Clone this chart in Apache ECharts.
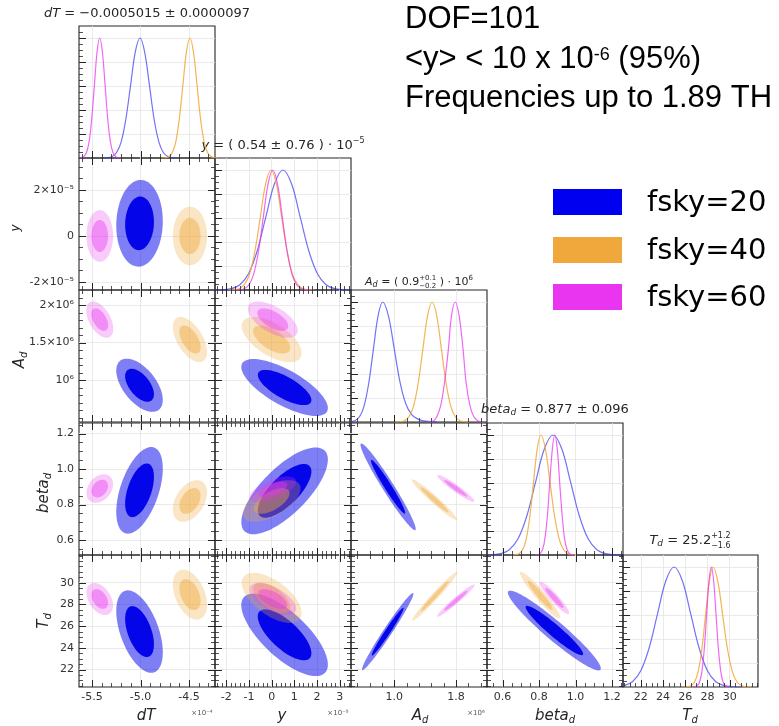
<!DOCTYPE html>
<html><head><meta charset="utf-8">
<script src="https://cdn.jsdelivr.net/npm/echarts@6.0.0/dist/echarts.min.js"></script>
<style>html,body{margin:0;padding:0;background:#fff;overflow:hidden}#chart{width:779px;height:726px}</style>
</head><body><div id="chart"></div>
<script>
// ================= DATA =================
const paramNames = ['dT', 'y', 'A_d', 'beta_d', 'T_d'];
const seriesNames = ['fsky=20', 'fsky=40', 'fsky=60'];

// ---- 1D marginal curves (x in plotted units, normalised density) ----
const dT_x_20 = [-5.393,-5.345,-5.296,-5.248,-5.199,-5.151,-5.102,-5.054,-5.005,-4.957,-4.908,-4.860,-4.811,-4.763,-4.714,-4.666,-4.617];
const dT_p_20 = [0.000,0.002,0.011,0.044,0.135,0.325,0.607,0.883,1.000,0.883,0.607,0.325,0.135,0.044,0.011,0.002,0.000];
const dT_x_40 = [-4.782,-4.746,-4.709,-4.673,-4.636,-4.600,-4.563,-4.527,-4.490,-4.454,-4.417,-4.381,-4.344,-4.308,-4.271,-4.235,-4.198];
const dT_p_40 = [0.000,0.002,0.011,0.044,0.135,0.325,0.607,0.883,1.000,0.883,0.607,0.325,0.135,0.044,0.011,0.002,0.000];
const dT_x_60 = [-5.640,-5.613,-5.585,-5.558,-5.530,-5.503,-5.475,-5.448,-5.420,-5.393,-5.365,-5.338,-5.310,-5.283,-5.255,-5.228,-5.200];
const dT_p_60 = [0.000,0.002,0.011,0.044,0.135,0.325,0.607,0.883,1.000,0.883,0.607,0.325,0.135,0.044,0.011,0.002,0.000];

const y_x_20 = [-2.54,-2.16,-1.78,-1.40,-1.02,-0.64,-0.26,0.12,0.50,0.88,1.26,1.64,2.02,2.40,2.78,3.16,3.54];
const y_p_20 = [0.000,0.002,0.011,0.044,0.135,0.325,0.607,0.883,1.000,0.883,0.607,0.325,0.135,0.044,0.011,0.002,0.000];
const y_x_40 = [-1.91,-1.68,-1.44,-1.21,-0.97,-0.74,-0.50,-0.27,-0.03,0.21,0.44,0.68,0.91,1.15,1.38,1.62,1.85];
const y_p_40 = [0.000,0.002,0.011,0.044,0.135,0.325,0.607,0.883,1.000,0.883,0.607,0.325,0.135,0.044,0.011,0.002,0.000];
const y_x_60 = [-1.63,-1.42,-1.21,-1.00,-0.79,-0.58,-0.37,-0.16,0.05,0.26,0.47,0.68,0.89,1.10,1.31,1.52,1.73];
const y_p_60 = [0.000,0.002,0.011,0.044,0.135,0.325,0.607,0.883,1.000,0.883,0.607,0.325,0.135,0.044,0.011,0.002,0.000];

const Ad_x_20 = [0.43,0.49,0.55,0.61,0.67,0.73,0.79,0.85,0.925,1.00,1.075,1.15,1.225,1.30,1.375,1.45,1.55];
const Ad_p_20 = [0.002,0.011,0.044,0.135,0.325,0.607,0.883,1.000,0.883,0.607,0.330,0.150,0.062,0.026,0.010,0.004,0.001];
const Ad_x_40 = [1.01,1.07,1.13,1.19,1.25,1.31,1.37,1.43,1.49,1.55,1.61,1.67,1.73,1.79,1.85,1.91,1.97];
const Ad_p_40 = [0.000,0.002,0.011,0.044,0.135,0.325,0.607,0.883,1.000,0.883,0.607,0.325,0.135,0.044,0.011,0.002,0.000];
const Ad_x_60 = [1.41,1.46,1.51,1.55,1.60,1.65,1.70,1.74,1.79,1.84,1.89,1.93,1.98,2.03,2.08,2.12,2.17];
const Ad_p_60 = [0.000,0.002,0.011,0.044,0.135,0.325,0.607,0.883,1.000,0.883,0.607,0.325,0.135,0.044,0.011,0.002,0.000];

const beta_x_20 = [0.493,0.541,0.589,0.637,0.685,0.733,0.781,0.829,0.877,0.925,0.973,1.021,1.069,1.117,1.165,1.213,1.261];
const beta_p_20 = [0.000,0.002,0.011,0.044,0.135,0.325,0.607,0.883,1.000,0.883,0.607,0.325,0.135,0.044,0.011,0.002,0.000];
const beta_x_40 = [0.65,0.67,0.69,0.71,0.73,0.75,0.77,0.79,0.81,0.835,0.86,0.885,0.91,0.935,0.96,0.985,1.01];
const beta_p_40 = [0.000,0.002,0.011,0.044,0.135,0.325,0.607,0.883,1.000,0.883,0.607,0.325,0.135,0.044,0.011,0.002,0.000];
const beta_x_60 = [0.778,0.792,0.805,0.819,0.832,0.846,0.859,0.873,0.886,0.900,0.913,0.927,0.940,0.954,0.967,0.981,0.994];
const beta_p_60 = [0.000,0.002,0.011,0.044,0.135,0.325,0.607,0.883,1.000,0.883,0.607,0.325,0.135,0.044,0.011,0.002,0.000];

const Td_x_20 = [19.0,19.75,20.5,21.25,22.0,22.75,23.5,24.25,25.0,25.75,26.5,27.25,28.0,28.75,29.5,30.25,31.0];
const Td_p_20 = [0.000,0.002,0.011,0.044,0.135,0.325,0.607,0.883,1.000,0.883,0.607,0.325,0.135,0.044,0.011,0.002,0.000];
const Td_x_40 = [25.86,26.19,26.52,26.85,27.18,27.51,27.84,28.17,28.5,28.93,29.36,29.79,30.22,30.65,31.08,31.51,31.94];
const Td_p_40 = [0.000,0.002,0.011,0.044,0.135,0.325,0.607,0.883,1.000,0.883,0.607,0.325,0.135,0.044,0.011,0.002,0.000];
const Td_x_60 = [26.67,26.88,27.09,27.30,27.51,27.72,27.93,28.14,28.35,28.56,28.77,28.98,29.19,29.40,29.61,29.82,30.03];
const Td_p_60 = [0.000,0.002,0.011,0.044,0.135,0.325,0.607,0.883,1.000,0.883,0.607,0.325,0.135,0.044,0.011,0.002,0.000];

// ---- 2D contours: [centre x, centre y, sigma x, sigma y, correlation] for fsky=20, 40, 60 ----
const c_y_dT    = [[-5.01,0.55,0.098,0.77,0.05],[-4.49,0.00,0.072,0.52,0.00],[-5.42,0.00,0.056,0.46,0.00]];
const c_Ad_dT   = [[-5.01,0.93,0.098,0.145,-0.55],[-4.49,1.54,0.072,0.123,-0.55],[-5.42,1.805,0.057,0.099,-0.50]];
const c_Ad_y    = [[0.57,0.90,0.78,0.155,-0.72],[0.00,1.54,0.54,0.123,-0.60],[0.05,1.805,0.45,0.099,-0.60]];
const c_beta_dT = [[-5.01,0.88,0.098,0.100,0.50],[-4.49,0.82,0.072,0.048,0.40],[-5.42,0.89,0.056,0.033,0.30]];
const c_beta_y  = [[0.57,0.877,0.78,0.100,0.72],[0.00,0.82,0.52,0.048,0.60],[0.05,0.885,0.42,0.030,0.60]];
const c_beta_Ad = [[0.92,0.90,0.146,0.100,-0.97],[1.52,0.827,0.120,0.047,-0.97],[1.797,0.891,0.098,0.031,-0.95]];
const c_Td_dT   = [[-5.01,25.5,0.098,1.55,-0.50],[-4.49,28.9,0.072,0.94,-0.40],[-5.42,28.5,0.056,0.60,-0.40]];
const c_Td_y    = [[0.57,25.2,0.78,1.55,-0.72],[0.00,28.6,0.54,0.94,-0.60],[0.05,28.5,0.42,0.60,-0.60]];
const c_Td_Ad   = [[0.915,25.5,0.136,1.45,0.98],[1.524,28.75,0.120,0.92,0.98],[1.797,28.35,0.100,0.61,0.97]];
const c_Td_beta = [[0.884,25.6,0.104,1.50,-0.95],[0.806,28.85,0.045,0.88,-0.95],[0.884,28.6,0.033,0.61,-0.93]];
const contourLevels = [2.448, 1.515]; // 95% and 68% Gaussian contour radii

// ---- ticks & labels ----
const dT_ticks = [-5.5,-5.0,-4.5];            const dT_tickLabels = ['-5.5','-5.0','-4.5'];
const y_ticks = [-2,-1,0,1,2,3];              const y_tickLabels = ['-2','-1','0','1','2','3'];
const y_ticksLeft = [-2,0,2];                 const y_tickLabelsLeft = ['-2×10⁻⁵','0','2×10⁻⁵'];
const Ad_ticks = [1.0,1.8];                   const Ad_tickLabels = ['1.0','1.8'];
const Ad_ticksLeft = [1.0,1.5,2.0];           const Ad_tickLabelsLeft = ['10⁶','1.5×10⁶','2×10⁶'];
const beta_ticks = [0.6,0.8,1.0,1.2];         const beta_tickLabels = ['0.6','0.8','1.0','1.2'];
const Td_ticks = [22,24,26,28,30];            const Td_tickLabels = ['22','24','26','28','30'];
const dens_ticks = [0.2,0.4,0.6,0.8,1.0];

// ================= BUILD =================
function steps(a, b, s) { const out = []; for (let v = a; v <= b + 1e-9; v += s) out.push(+v.toFixed(4)); return out; }

const xDefs = [
  {min:-5.634, max:-4.232, major:dT_ticks, labels:dT_tickLabels, minor:steps(-5.6,-4.3,0.1)},
  {min:-2.5, max:3.5, major:y_ticks, labels:y_tickLabels, minor:steps(-2.4,3.4,0.2)},
  {min:0.44, max:2.2, major:Ad_ticks, labels:Ad_tickLabels, minor:steps(0.52,2.12,0.16)},
  {min:0.515, max:1.26, major:beta_ticks, labels:beta_tickLabels, minor:steps(0.55,1.25,0.05)},
  {min:20.4, max:32.55, major:Td_ticks, labels:Td_tickLabels, minor:steps(20.5,32.5,0.5)}
];
const yDefs = [
  null,
  {min:-2.35, max:3.39, major:y_ticksLeft, labels:y_tickLabelsLeft, minor:steps(-2,3,0.5)},
  {min:0.44, max:2.2, major:Ad_ticksLeft, labels:Ad_tickLabelsLeft, minor:steps(0.5,2.1,0.1)},
  {min:0.515, max:1.26, major:beta_ticks, labels:beta_tickLabels, minor:steps(0.55,1.25,0.05)},
  {min:20.4, max:32.55, major:Td_ticks, labels:Td_tickLabels, minor:steps(20.5,32.5,0.5)}
];
const densDef = {min:0, max:1.1, major:dens_ticks, labels:[], minor:steps(0.05,1.05,0.05)};

const marginals = [
  [[dT_x_20,dT_p_20],[dT_x_40,dT_p_40],[dT_x_60,dT_p_60]],
  [[y_x_20,y_p_20],[y_x_40,y_p_40],[y_x_60,y_p_60]],
  [[Ad_x_20,Ad_p_20],[Ad_x_40,Ad_p_40],[Ad_x_60,Ad_p_60]],
  [[beta_x_20,beta_p_20],[beta_x_40,beta_p_40],[beta_x_60,beta_p_60]],
  [[Td_x_20,Td_p_20],[Td_x_40,Td_p_40],[Td_x_60,Td_p_60]]
];
const contours = {
  '1,0': c_y_dT, '2,0': c_Ad_dT, '2,1': c_Ad_y, '3,0': c_beta_dT, '3,1': c_beta_y,
  '3,2': c_beta_Ad, '4,0': c_Td_dT, '4,1': c_Td_y, '4,2': c_Td_Ad, '4,3': c_Td_beta
};

const colLeft = [79, 215, 351, 487, 623];
const colW = [136, 136, 136, 136, 135];
const rowTop = [26, 158, 290, 423, 555];
const rowH = 132;

const axisColor = '#262626';
const lineColors = ['rgba(60,60,245,0.72)', 'rgba(242,172,64,0.9)', 'rgba(233,53,240,0.75)'];
const outerFill = ['rgba(0,0,235,0.50)', 'rgba(240,168,60,0.30)', 'rgba(233,53,240,0.26)'];
const innerFill = ['rgba(0,0,232,0.96)', 'rgba(240,168,60,0.45)', 'rgba(233,53,240,0.42)'];

function nearestLabel(def, v) {
  let bi = 0, bd = Infinity;
  def.major.forEach((m, i) => { const d = Math.abs(m - v); if (d < bd) { bd = d; bi = i; } });
  return def.labels[bi] || '';
}
function makeAxis(gi, def, pos, showLabel) {
  return {
    type: 'value', gridIndex: gi, position: pos, min: def.min, max: def.max,
    axisLine: {show: false, onZero: false},
    axisTick: {show: false, customValues: def.major},
    minorTick: {show: false},
    axisLabel: {show: showLabel, customValues: def.major, hideOverlap: false,
                formatter: v => nearestLabel(def, v), margin: 5,
                fontFamily: 'DejaVu Sans', fontSize: 11, color: '#333'},
    splitLine: {show: true, lineStyle: {color: '#e4e4e4', width: 0.8}},
    axisPointer: {show: false}
  };
}
// tick marks drawn through the grid's own scales
function tickSeries(xi, yi, xd, yd, diag) {
  const data = [];
  xd.major.forEach(v => data.push([v, 0])); xd.minor.forEach(v => data.push([v, 1]));
  yd.major.forEach(v => data.push([v, 2])); yd.minor.forEach(v => data.push([v, 3]));
  const xMid = (xd.min + xd.max) / 2, yMid = (yd.min + yd.max) / 2;
  return {
    type: 'custom', xAxisIndex: xi, yAxisIndex: yi, data, silent: true, clip: false, z: 5,
    dimensions: ['v', 'kind'], encode: {x: -1, y: -1},
    renderItem: (params, api) => {
      const v = api.value(0), kind = api.value(1);
      const cs = params.coordSys;
      const len = (kind === 0 || kind === 2) ? 7 : 4;
      const segs = [];
      if (kind < 2) {
        if (v < xd.min || v > xd.max) return null;
        const px = Math.round(api.coord([v, yMid])[0]) + 0.5;
        segs.push([px, cs.y + cs.height, px, cs.y + cs.height - len]);
        if (!diag) segs.push([px, cs.y, px, cs.y + len]);
      } else {
        if (v < yd.min || v > yd.max) return null;
        const py = Math.round(api.coord([xMid, v])[1]) + 0.5;
        segs.push([cs.x, py, cs.x + len, py]);
        if (!diag) segs.push([cs.x + cs.width, py, cs.x + cs.width - len, py]);
      }
      return {type: 'group', children: segs.map(s => ({
        type: 'line', shape: {x1: s[0], y1: s[1], x2: s[2], y2: s[3]},
        style: {stroke: axisColor, lineWidth: kind % 2 ? 0.8 : 1}}))};
    }
  };
}

const grids = [], xAxes = [], yAxes = [], series = [];
let gi = 0;
for (let r = 0; r < 5; r++) {
  for (let c = 0; c <= r; c++) {
    grids.push({left: colLeft[c], top: rowTop[r], width: colW[c], height: rowH, containLabel: false,
                outerBoundsMode: 'none', show: true, borderColor: axisColor, borderWidth: 1.1, backgroundColor: 'transparent'});
    const xd = xDefs[c];
    const yd = (r === c) ? densDef : yDefs[r];
    const xi = xAxes.length, yi = yAxes.length;
    xAxes.push(makeAxis(gi, xd, 'bottom', r === 4));
    yAxes.push(makeAxis(gi, yd, 'left', c === 0 && r > 0));
    if (r === c) {
      marginals[r].forEach((m, s) => {
        series.push({
          type: 'line', name: seriesNames[s], xAxisIndex: xi, yAxisIndex: yi,
          data: m[0].map((x, i) => [x, m[1][i]]),
          smooth: 0.35, symbol: 'none', clip: true, silent: true,
          lineStyle: {color: lineColors[s], width: 1.2}, z: 3
        });
      });
    } else {
      contours[r + ',' + c].forEach((e, s) => {
        series.push({
          type: 'custom', name: seriesNames[s], xAxisIndex: xi, yAxisIndex: yi,
          data: [e], dimensions: ['x', 'y', 'sx', 'sy', 'rho'], encode: {x: 0, y: 1},
          clip: true, silent: true, z: 2,
          renderItem: (params, api) => {
            const cx = api.value(0), cy = api.value(1), sx = api.value(2), sy = api.value(3), rho = api.value(4);
            const q = Math.sqrt(1 - rho * rho);
            const children = contourLevels.map((k, li) => {
              const pts = [];
              for (let i = 0; i < 90; i++) {
                const t = i / 90 * 2 * Math.PI;
                pts.push(api.coord([cx + k * sx * Math.cos(t), cy + k * sy * (rho * Math.cos(t) + q * Math.sin(t))]));
              }
              return {type: 'polygon', shape: {points: pts}, style: {fill: li === 0 ? outerFill[s] : innerFill[s]}};
            });
            return {type: 'group', children};
          }
        });
      });
    }
    series.push(tickSeries(xi, yi, xd, yd, r === c));
    gi++;
  }
}

// ---------- text helpers ----------
const mctx = document.createElement('canvas').getContext('2d');
function tw(t, f) { mctx.font = f; return mctx.measureText(t).width; }
function fontStr(p, o) { return (p.it ? 'italic ' : '') + (p.s || o.s) + 'px "' + (p.f || o.f) + '"'; }
function pieceGroup(pieces, o) {
  let total = 0;
  const widths = pieces.map(p => {
    const f = fontStr(p, o);
    const w = p.stack ? Math.max(...p.stack.map(t => tw(t, f))) : tw(p.t, f);
    total += w; return w;
  });
  let x0 = o.align === 'left' ? 0 : -total / 2;
  const children = [];
  pieces.forEach((p, i) => {
    const f = fontStr(p, o);
    const parts = p.stack ? [[p.stack[0], -(p.sd || 5)], [p.stack[1], (p.sd || 5)]] : [[p.t, p.dy || 0]];
    parts.forEach(([t, dy]) => children.push({
      type: 'text', x: x0, y: dy,
      style: {text: t, font: f, fill: o.fill || '#222', align: 'left', verticalAlign: 'middle'}
    }));
    x0 += widths[i];
  });
  return {type: 'group', x: o.x, y: o.y, rotation: o.rotation || 0, children, silent: true};
}

const graphics = [];
const mathBase = {f: 'DejaVu Sans', s: 13, fill: '#262626'};
// diagonal titles
graphics.push(pieceGroup([{t: 'dT', it: true}, {t: ' = −0.0005015 ± 0.0000097'}], {...mathBase, x: 147, y: 14}));
graphics.push(pieceGroup([{t: 'y', it: true}, {t: ' = ( 0.54 ± 0.76 ) · 10'}, {t: '−5', s: 8, dy: -5}], {...mathBase, x: 283, y: 146}));
graphics.push(pieceGroup([{t: 'A', it: true}, {t: 'd', it: true, s: 8, dy: 3}, {t: ' = ( 0.9'}, {stack: ['+0.1', '−0.2'], s: 7, sd: 4}, {t: ' ) · 10'}, {t: '6', s: 7, dy: -4}], {...mathBase, s: 11, x: 419, y: 282}));
graphics.push(pieceGroup([{t: 'beta', it: true}, {t: 'd', it: true, s: 9, dy: 3}, {t: ' = 0.877 ± 0.096'}], {...mathBase, x: 555, y: 410}));
graphics.push(pieceGroup([{t: 'T', it: true}, {t: 'd', it: true, s: 9, dy: 3}, {t: ' = 25.2'}, {stack: ['+1.2', '−1.6'], s: 8, sd: 5}], {...mathBase, x: 690, y: 541}));

// axis names
const nameBase = {f: 'DejaVu Sans', s: 15, fill: '#262626'};
graphics.push(pieceGroup([{t: 'dT', it: true}], {...nameBase, x: 146, y: 716}));
graphics.push(pieceGroup([{t: 'y', it: true}], {...nameBase, x: 282, y: 716}));
graphics.push(pieceGroup([{t: 'A', it: true}, {t: 'd', it: true, s: 10, dy: 4}], {...nameBase, x: 420, y: 716}));
graphics.push(pieceGroup([{t: 'beta', it: true}, {t: 'd', it: true, s: 10, dy: 4}], {...nameBase, x: 555, y: 716}));
graphics.push(pieceGroup([{t: 'T', it: true}, {t: 'd', it: true, s: 10, dy: 4}], {...nameBase, x: 690, y: 716}));
graphics.push(pieceGroup([{t: 'y', it: true}], {...nameBase, s: 12, x: 16, y: 228, rotation: Math.PI / 2}));
graphics.push(pieceGroup([{t: 'A', it: true}, {t: 'd', it: true, s: 10, dy: 4}], {...nameBase, x: 20, y: 360, rotation: Math.PI / 2}));
graphics.push(pieceGroup([{t: 'beta', it: true}, {t: 'd', it: true, s: 10, dy: 4}], {...nameBase, x: 44, y: 493, rotation: Math.PI / 2}));
graphics.push(pieceGroup([{t: 'T', it: true}, {t: 'd', it: true, s: 10, dy: 4}], {...nameBase, x: 44, y: 621, rotation: Math.PI / 2}));

// offset texts
const offBase = {f: 'DejaVu Sans', s: 7, fill: '#555'};
graphics.push(pieceGroup([{t: '×10⁻⁴'}], {...offBase, x: 202, y: 713}));
graphics.push(pieceGroup([{t: '×10⁻⁵'}], {...offBase, x: 338, y: 713}));
graphics.push(pieceGroup([{t: '×10⁶'}], {...offBase, x: 476, y: 713}));

// header annotation
const headBase = {f: 'Liberation Sans', s: 31, fill: '#000', align: 'left'};
graphics.push(pieceGroup([{t: 'DOF=101'}], {...headBase, x: 405, y: 19}));
graphics.push(pieceGroup([{t: '<y> < 10 x 10'}, {t: '-6', s: 18, dy: -4}, {t: ' (95%)'}], {...headBase, x: 405, y: 59}));
graphics.push(pieceGroup([{t: 'Frequencies up to 1.89 TH'}], {...headBase, x: 405, y: 98}));

// legend
const legendFill = ['#0000f0', '#f0a83c', '#e935f0'];
const legendY = [189, 237, 284];
seriesNames.forEach((n, i) => {
  graphics.push({type: 'rect', shape: {x: 553, y: legendY[i], width: 69, height: 26}, style: {fill: legendFill[i]}, silent: true});
  graphics.push({type: 'text', x: 647, y: legendY[i] + 14, style: {text: n, font: '29px "DejaVu Sans"', fill: '#000', align: 'left', verticalAlign: 'middle'}, silent: true});
});

const chart = echarts.init(document.getElementById('chart'), null, {renderer: 'canvas'});
chart.setOption({
  animation: false,
  backgroundColor: '#ffffff',
  grid: grids, xAxis: xAxes, yAxis: yAxes, series: series,
  graphic: {elements: graphics}
});
</script></body></html>
